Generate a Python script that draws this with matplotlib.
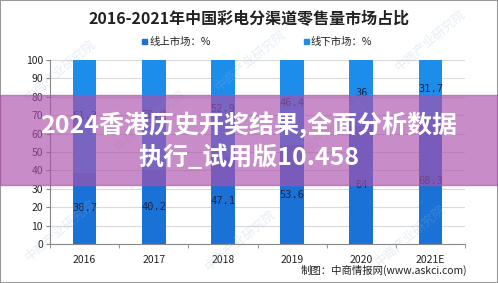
import numpy as np
import matplotlib.pyplot as plt
from matplotlib.patches import Rectangle

plt.rcParams['font.family'] = ['Noto Sans CJK SC', 'DejaVu Sans']

years = ['2016', '2017', '2018', '2019', '2020', '2021E']
online = [38.7, 40.2, 47.1, 53.6, 64, 68.3]
offline = [61.3, 59.8, 52.9, 46.4, 36, 31.7]
online_labels = ['38.7', '40.2', '47.1', '53.6', '64', '68.3']
offline_labels = ['61.3', '59.8', '52.9', '46.4', '36', '31.7']

c_online = '#1A72D6'
c_offline = '#1D8DEC'

fig = plt.figure(figsize=(4.98, 2.83), dpi=100)
ax = fig.add_axes([50 / 498, 1 - 244 / 283, 415 / 498, 184 / 283])

x = np.arange(len(years))
w = 0.34
ax.bar(x, online, width=w, color=c_online, zorder=2)
ax.bar(x, offline, width=w, bottom=online, color=c_offline, zorder=2)

for i in range(len(years)):
    ax.text(x[i], online[i] / 2, online_labels[i], ha='center', va='center',
            fontsize=7.5, family='DejaVu Sans Mono', color='#1b2445', zorder=3)
    ax.text(x[i], online[i] + offline[i] / 2, offline_labels[i], ha='center', va='center',
            fontsize=7.5, family='DejaVu Sans Mono', color='#1b2445', zorder=3)

ax.set_xlim(-0.5, 5.5)
ax.set_ylim(0, 100)
ax.set_yticks(range(0, 101, 10))
ax.set_xticks(x)
ax.set_xticklabels(years)
ax.set_xticks(np.arange(-0.5, 6, 1), minor=True)
ax.tick_params(axis='x', which='major', length=0, labelsize=7.5, pad=8, colors='#222222')
ax.tick_params(axis='x', which='minor', length=3, color='#888888')
ax.tick_params(axis='y', length=3, color='#888888', labelsize=7.5, labelcolor='#222222', pad=2)
ax.grid(axis='y', color='#d9d9d9', linewidth=0.8, zorder=0)
for s in ['top', 'right']:
    ax.spines[s].set_visible(False)
for s in ['left', 'bottom']:
    ax.spines[s].set_color('#888888')
    ax.spines[s].set_linewidth(0.8)

# title and legend
fig.text(0.5, 1 - 18 / 283, '2016-2021年中国彩电分渠道零售量市场占比', ha='center', va='center',
         fontsize=11.5, fontweight='bold', color='#222222')
fig.patches.append(Rectangle((142 / 498, 1 - 44 / 283), 5 / 498, 5 / 283,
                             transform=fig.transFigure, color=c_online))
fig.text(150 / 498, 1 - 41.5 / 283, '线上市场：%', ha='left', va='center', fontsize=7.5, color='#222222')
fig.patches.append(Rectangle((304 / 498, 1 - 44 / 283), 5 / 498, 5 / 283,
                             transform=fig.transFigure, color=c_offline))
fig.text(311 / 498, 1 - 41.5 / 283, '线下市场：%', ha='left', va='center', fontsize=7.5, color='#222222')

fig.text(467 / 498, 1 - 270 / 283, '制图：中商情报网(www.askci.com)', ha='right', va='center',
         fontsize=7.5, color='#222222')

# faint watermarks
for wx, wy in [(60, 230), (240, 240), (410, 235), (60, 70), (250, 60), (430, 40), (150, 120), (330, 130)]:
    fig.text(wx / 498, 1 - wy / 283, '中商产业研究院', rotation=40, ha='center', va='center',
             fontsize=9, color='#9ab8d8', alpha=0.25)

# pink overlay band
fig.patches.append(Rectangle((0, 1 - 185 / 283), 1, 90 / 283, transform=fig.transFigure,
                             color='#AB50AB', alpha=0.65, zorder=5))
fig.text(0.5, 1 - 125 / 283, '2024香港历史开奖结果,全面分析数据', ha='center', va='center',
         fontsize=18, fontweight='bold', color='white', zorder=6)
fig.text(0.5, 1 - 157 / 283, '执行_试用版10.458', ha='center', va='center',
         fontsize=18, fontweight='bold', color='white', zorder=6)

fig.patches.append(Rectangle((0, 0), 1, 1, transform=fig.transFigure, fill=False,
                             edgecolor='#999999', linewidth=1.5))

fig.savefig('out.png', dpi=100)
